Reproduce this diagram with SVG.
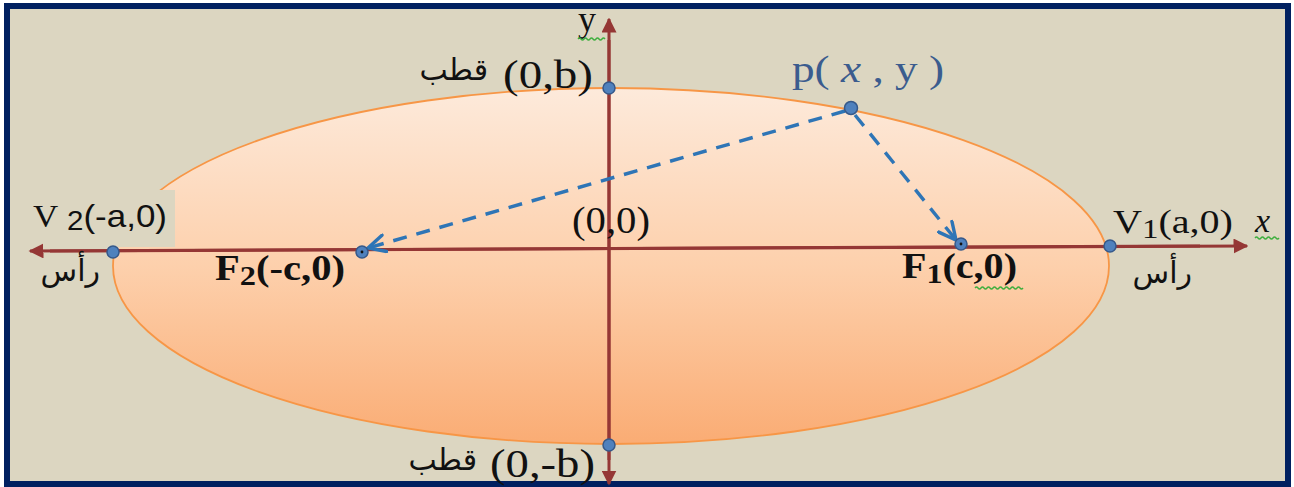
<svg xmlns="http://www.w3.org/2000/svg" width="1294" height="487" viewBox="0 0 1294 487">
  <defs>
    <linearGradient id="ellGrad" x1="0" y1="0" x2="0" y2="1">
      <stop offset="0" stop-color="#FDEADB"/>
      <stop offset="0.5" stop-color="#FDD0AC"/>
      <stop offset="1" stop-color="#FAAC74"/>
    </linearGradient>
    <marker id="axArrow" viewBox="0 0 10 10" refX="9" refY="5" markerWidth="5" markerHeight="5" orient="auto" markerUnits="strokeWidth">
      <path d="M0,0 L10,5 L0,10 Z" fill="#953735"/>
    </marker>
    <marker id="dashArrow" viewBox="0 0 12 12" refX="11" refY="6" markerWidth="6" markerHeight="6" orient="auto" markerUnits="strokeWidth">
      <path d="M1,1 L11,6 L1,11" fill="none" stroke="#2E75B6" stroke-width="2" stroke-linecap="round"/>
    </marker>
    <style>
      .axis { stroke: #953735; stroke-width: 3; fill: none; }
      .dash { stroke: #2E75B6; stroke-width: 3.4; fill: none; stroke-dasharray: 14 10; }
      .pt { fill: #4F81BD; stroke: #36598A; stroke-width: 1.5; }
      .ser { font-family: "Liberation Serif", "Times New Roman", serif; fill: #111; }
      .sans { font-family: "Liberation Sans", Arial, sans-serif; fill: #111; }
      .ar { font-family: "DejaVu Serif", "DejaVu Sans", "Noto Sans", sans-serif; fill: #111; }
      .sq { stroke: #3DAE3D; stroke-width: 1.3; fill: none; }
    </style>
  </defs>

  <rect x="7" y="6" width="1281" height="478" fill="#DCD6C1" stroke="#002060" stroke-width="6"/>

  <g id="ellipse">
    <ellipse cx="611" cy="266" rx="498" ry="178" fill="url(#ellGrad)" stroke="#F79646" stroke-width="1.8"/>
  </g>

  <rect x="10" y="190" width="165" height="57" fill="#DCD6C1"/>

  <g id="connectors">
    <line class="axis" x1="50" y1="251" x2="1247" y2="246" marker-end="url(#axArrow)"/>
    <line class="axis" x1="1200" y1="246" x2="30" y2="251" marker-end="url(#axArrow)"/>
    <line class="axis" x1="609" y1="460" x2="609" y2="19" marker-end="url(#axArrow)"/>
    <line class="axis" x1="609" y1="40" x2="609" y2="484" marker-end="url(#axArrow)"/>
    <line class="dash" x1="845" y1="111" x2="368" y2="248" marker-end="url(#dashArrow)"/>
    <line class="dash" x1="855" y1="115" x2="956" y2="240" marker-end="url(#dashArrow)"/>
  </g>

  <g id="node-b-top">
    <circle class="pt" cx="609" cy="88" r="6"/>
    <text class="ser" x="503" y="88" font-size="40" textLength="90" lengthAdjust="spacingAndGlyphs">(0,b)</text>
    <text class="ar" x="488" y="80" font-size="30" text-anchor="end">قطب</text>
  </g>

  <g id="node-b-bottom">
    <circle class="pt" cx="609" cy="445" r="6"/>
    <text class="ser" x="490" y="477" font-size="40" textLength="105" lengthAdjust="spacingAndGlyphs">(0,-b)</text>
    <text class="ar" x="477" y="470" font-size="30" text-anchor="end">قطب</text>
  </g>

  <g id="node-y-label">
    <text class="ser" x="578" y="31" font-size="36">y</text>
    <path class="sq" d="M578,39 q1.5,-2 3,0 t3,0 t3,0 t3,0 t3,0 t3,0 t3,0 t3,0 t3,0"/>
  </g>

  <g id="node-p">
    <circle class="pt" cx="851" cy="108" r="6.5"/>
    <text x="792" y="82" font-size="37" fill="#3B5C8E" font-family="Liberation Serif, serif" textLength="152" lengthAdjust="spacingAndGlyphs">p( <tspan font-style="italic">x</tspan> , y )</text>
  </g>

  <g id="node-origin">
    <text class="ser" x="572" y="233" font-size="37" textLength="78" lengthAdjust="spacingAndGlyphs">(0,0)</text>
  </g>

  <g id="node-v2">
    <circle class="pt" cx="113" cy="252" r="6"/>
    <text x="33" y="227" font-size="32" fill="#111" textLength="134" lengthAdjust="spacingAndGlyphs"><tspan class="ser">V</tspan><tspan class="sans" dx="8" dy="3" font-size="27">2</tspan><tspan class="sans" dy="-3" font-size="32">(-a,0)</tspan></text>
    <text class="ar" x="100" y="281" font-size="30" text-anchor="end">رأس</text>
  </g>

  <g id="node-f2">
    <circle class="pt" cx="362" cy="252" r="6"/>
    <circle cx="362" cy="252" r="1.4" fill="#111"/>
    <text class="ser" x="215" y="280" font-size="35" font-weight="bold" textLength="130" lengthAdjust="spacingAndGlyphs">F<tspan dy="5" font-size="28">2</tspan><tspan dy="-5">(-c,0)</tspan></text>
  </g>

  <g id="node-f1">
    <circle class="pt" cx="961" cy="244" r="6"/>
    <circle cx="961" cy="244" r="1.4" fill="#111"/>
    <text class="ser" x="902" y="278" font-size="35" font-weight="bold" textLength="115" lengthAdjust="spacingAndGlyphs">F<tspan dy="5" font-size="28">1</tspan><tspan dy="-5">(c,0)</tspan></text>
    <path class="sq" d="M975,288 q1.5,-2 3,0 t3,0 t3,0 t3,0 t3,0 t3,0 t3,0 t3,0 t3,0 t3,0 t3,0 t3,0 t3,0 t3,0 t3,0 t3,0"/>
  </g>

  <g id="node-v1">
    <circle class="pt" cx="1110" cy="246" r="6"/>
    <text class="ser" x="1113" y="233" font-size="34" textLength="120" lengthAdjust="spacingAndGlyphs">V<tspan dy="5" font-size="28">1</tspan><tspan dy="-5">(a,0)</tspan></text>
    <text class="ar" x="1192" y="283" font-size="30" text-anchor="end">رأس</text>
  </g>

  <g id="node-x-label">
    <text class="ser" x="1255" y="232" font-size="34" font-style="italic">x</text>
    <path class="sq" d="M1255,238 q1.5,-2 3,0 t3,0 t3,0 t3,0 t3,0 t3,0 t3,0 t3,0"/>
  </g>
</svg>
